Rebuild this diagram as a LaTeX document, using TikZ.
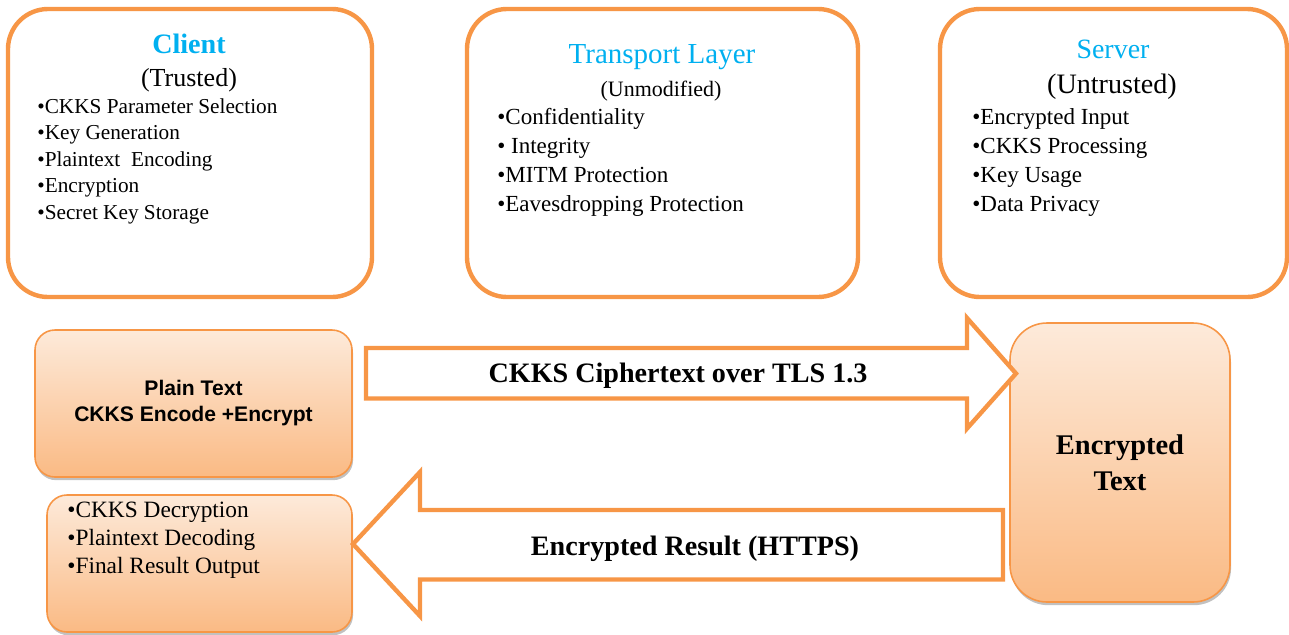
\documentclass[tikz,border=0pt]{standalone}
\usepackage{fontspec}
\setmainfont{Liberation Serif}
\newfontfamily\arialfont{Liberation Sans}
\usetikzlibrary{positioning, calc, shadows}
\definecolor{myorange}{RGB}{247, 150, 70}
\definecolor{myblue}{RGB}{0, 176, 240}
\definecolor{peachtop}{RGB}{253, 234, 218}
\definecolor{peachbottom}{RGB}{250, 186, 132}

\begin{document}
\begin{tikzpicture}[
    x=0.2mm, y=-0.2mm,
    % --- stili per i riquadri ---
    panel/.style={draw=myorange, line width=2.5pt, rounded corners=0.8cm, fill=white, inner sep=0},
    stage/.style={draw=myorange, line width=0.9pt, outer sep=0, top color=peachtop, bottom color=peachbottom,
        drop shadow={shadow xshift=0.6pt, shadow yshift=-1.8pt, opacity=0.35, fill=black!70}},
    flowarrow/.style={draw=myorange, line width=2.5pt, fill=white, line join=miter},
    % --- stili per i testi ---
    title/.style={anchor=base, inner sep=0, text=myblue},
    sub/.style={anchor=base, inner sep=0},
    item/.style={anchor=base west, inner sep=0},
    arrowlabel/.style={anchor=base, inner sep=0, font=\bfseries\fontsize{16}{19}\selectfont}
]
\useasboundingbox (0,0) rectangle (1289,634);

% 1. Riquadri superiori
\node (client) [panel, minimum width=7.28cm, minimum height=5.76cm] at (190,153) {};
\node (transport) [panel, minimum width=7.82cm, minimum height=5.76cm] at (662.5,153) {};
\node (server) [panel, minimum width=6.94cm, minimum height=5.76cm] at (1113.5,153) {};

% 2. Client
\node (clienttitle) [title, font=\bfseries\fontsize{16}{19}\selectfont] at (189,53) {Client};
\node (clientsub) [sub, font=\fontsize{14.8}{18}\selectfont] at (189,86) {(Trusted)};
\node (c1) [item, font=\fontsize{12.1}{14}\selectfont] at (37,113) {•CKKS Parameter Selection};
\node (c2) [item, font=\fontsize{12.1}{14}\selectfont] at (37,139.5) {•Key Generation};
\node (c3) [item, font=\fontsize{12.1}{14}\selectfont] at (37,166) {•Plaintext\ \ Encoding};
\node (c4) [item, font=\fontsize{12.1}{14}\selectfont] at (37,192.5) {•Encryption};
\node (c5) [item, font=\fontsize{12.1}{14}\selectfont] at (37,219) {•Secret Key Storage};

% 3. Transport Layer
\node (transporttitle) [title, font=\fontsize{16.5}{20}\selectfont] at (662,63) {Transport Layer};
\node (transportsub) [sub, font=\fontsize{12.5}{15}\selectfont] at (661,96) {(Unmodified)};
\node (t1) [item, font=\fontsize{13.1}{16}\selectfont] at (497,124) {•Confidentiality};
\node (t2) [item, font=\fontsize{13.1}{16}\selectfont] at (497,153) {•\ Integrity};
\node (t3) [item, font=\fontsize{13.1}{16}\selectfont] at (497,182) {•MITM Protection};
\node (t4) [item, font=\fontsize{13.1}{16}\selectfont] at (497,211) {•Eavesdropping Protection};

% 4. Server
\node (servertitle) [title, font=\fontsize{15.9}{19}\selectfont] at (1113,58) {Server};
\node (serversub) [sub, font=\fontsize{16}{19}\selectfont] at (1112,93) {(Untrusted)};
\node (s1) [item, font=\fontsize{13.1}{16}\selectfont] at (972,124) {•Encrypted Input};
\node (s2) [item, font=\fontsize{13.1}{16}\selectfont] at (972,153) {•CKKS Processing};
\node (s3) [item, font=\fontsize{13.1}{16}\selectfont] at (972,182) {•Key Usage};
\node (s4) [item, font=\fontsize{13.1}{16}\selectfont] at (972,211) {•Data Privacy};

% 5. Riquadri inferiori (flusso dei dati)
\node (plain) [stage, rounded corners=0.4cm, minimum width=6.34cm, minimum height=2.94cm, align=center,
    font=\arialfont\bfseries\fontsize{12}{14.8}\selectfont] at (193.5,403.5) {Plain Text\\CKKS Encode +Encrypt};
\node (decrypt) [stage, rounded corners=0.4cm, minimum width=6.1cm, minimum height=2.74cm] at (199.5,563.5) {};
\node (enc) [stage, rounded corners=0.74cm, minimum width=4.4cm, minimum height=5.58cm, align=center,
    font=\bfseries\fontsize{16.2}{20.5}\selectfont] at (1120,462.5) {Encrypted\\Text};

\node (d1) [item, font=\fontsize{13.3}{16}\selectfont] at (67,517) {•CKKS Decryption};
\node (d2) [item, font=\fontsize{13.3}{16}\selectfont] at (67,545) {•Plaintext Decoding};
\node (d3) [item, font=\fontsize{13.3}{16}\selectfont] at (67,573) {•Final Result Output};

% 6. Frecce di invio e di ritorno
\coordinate (sendtail) at ($(plain.east)+(14,-30)$);
\coordinate (sendtip) at ($(enc.west)+(6,-89)$);
\draw[flowarrow] ($(sendtail)+(0,-25.5)$) -- ($(sendtip)+(-49,-25.5)$) -- ($(sendtip)+(-49,-55.5)$)
    -- (sendtip) -- ($(sendtip)+(-49,55)$) -- ($(sendtip)+(-49,25)$) -- ($(sendtail)+(0,25)$) -- cycle;
\node (sendlabel) [arrowlabel] at (678,382) {CKKS Ciphertext over TLS 1.3};

\coordinate (backtail) at ($(enc.west)+(-7,81.5)$);
\coordinate (backtip) at ($(decrypt.east)+(1,-19.5)$);
\draw[flowarrow] ($(backtail)+(0,-34)$) -- ($(backtip)+(67,-34)$) -- ($(backtip)+(67,-72)$)
    -- (backtip) -- ($(backtip)+(67,72)$) -- ($(backtip)+(67,35.5)$) -- ($(backtail)+(0,35.5)$) -- cycle;
\node (backlabel) [arrowlabel] at (695,555) {Encrypted Result (HTTPS)};
\end{tikzpicture}
\end{document}
